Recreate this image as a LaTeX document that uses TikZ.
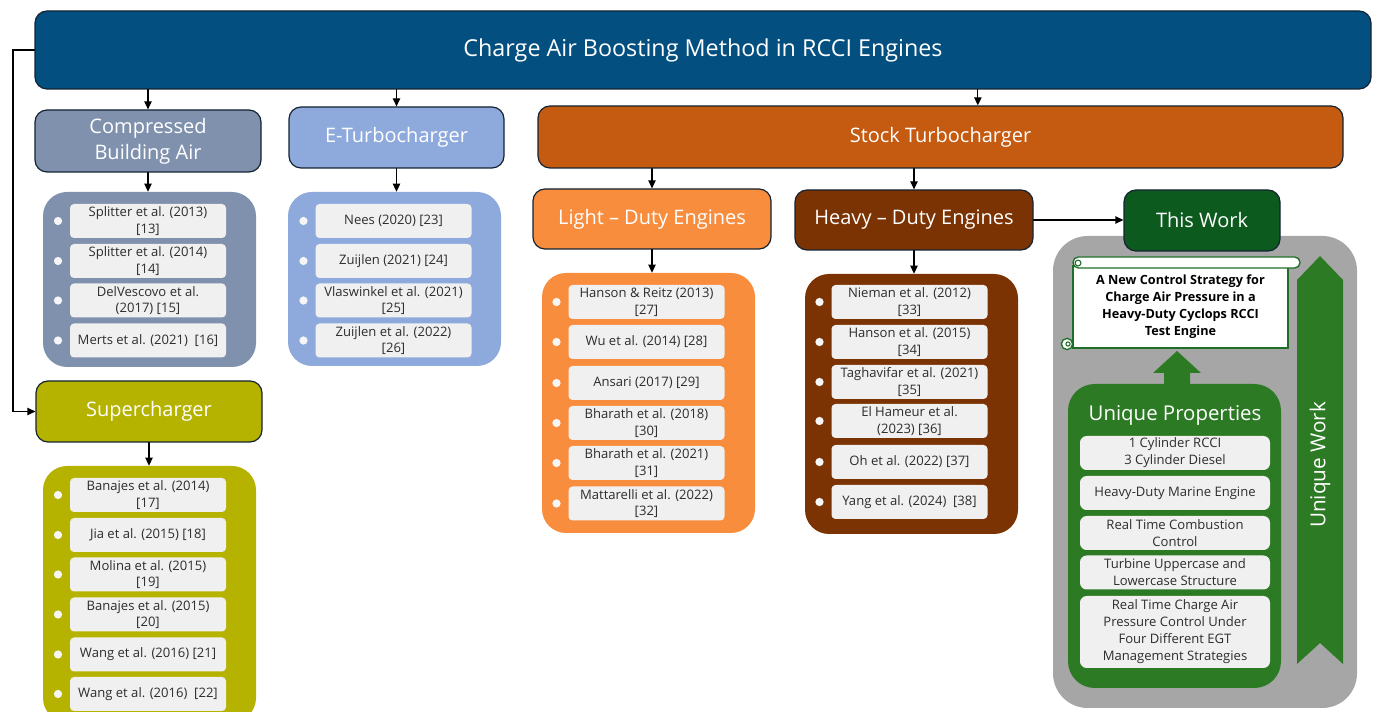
\documentclass[tikz,border=0pt]{standalone}
\usepackage{fontspec}
\setmainfont{Open Sans}
\usetikzlibrary{arrows.meta}

\begin{document}
\begin{tikzpicture}
		[x=0.75pt,y=-0.75pt,line cap=round,
		>={Triangle[length=6pt,width=5.5pt]},
		%Styles
		connector/.style={line width=0.9pt,->},
		head box/.style={draw=boxedge,line width=0.9pt,rounded corners=9pt,inner sep=0pt,text=white,align=center,font=\fontsize{15}{19.5}\selectfont},
		list panel/.style={rounded corners=18pt,inner sep=0pt,minimum width=159.75pt},
		ref item/.style={fill=itemgrey,rounded corners=3pt,inner sep=0pt,minimum width=117pt,minimum height=25.5pt,align=center,text=itemtext,font=\fontsize{9.8}{12.6}\selectfont,label={[dotmark]left:{}}},
		dotmark/.style={circle,fill=dotgrey,inner sep=0pt,minimum size=6.2pt,xshift=-5.5pt},
		prop item/.style={fill=itemgrey,rounded corners=5pt,inner sep=0pt,minimum width=142.5pt,minimum height=25.5pt,align=center,text=itemtext,font=\fontsize{9.8}{12.8}\selectfont},
		scroll line/.style={draw=scrollgreen,line width=1pt,fill=white}
		]
		
		%Colors
		\definecolor{titleblue}{RGB}{2,79,128}
		\definecolor{cbablue}{RGB}{128,145,174}
		\definecolor{etcblue}{RGB}{142,169,219}
		\definecolor{stockorange}{RGB}{197,90,17}
		\definecolor{lightorange}{RGB}{248,141,62}
		\definecolor{heavybrown}{RGB}{123,51,3}
		\definecolor{twgreen}{RGB}{12,90,30}
		\definecolor{propgreen}{RGB}{45,122,37}
		\definecolor{scrollgreen}{RGB}{30,110,40}
		\definecolor{areagrey}{RGB}{166,166,166}
		\definecolor{scolive}{RGB}{181,178,0}
		\definecolor{itemgrey}{RGB}{240,240,240}
		\definecolor{dotgrey}{RGB}{246,246,246}
		\definecolor{itemtext}{RGB}{45,45,45}
		\definecolor{boxedge}{RGB}{20,35,50}
		
		\useasboundingbox (0,0) rectangle (1379,712);
		
		%The graphic
		\node[head box,fill=titleblue,minimum width=1002pt,minimum height=58.5pt,font=\fontsize{17.5}{21}\selectfont] (title) at (703,50) {Charge Air Boosting Method in RCCI Engines};
		
		\node[head box,fill=cbablue,minimum width=169.5pt,minimum height=46.5pt] (cba) at (148,141) {Compressed\\Building Air};
		\node[head box,fill=etcblue,minimum width=161.25pt,minimum height=45.75pt] (etc) at (396.5,137.5) {E-Turbocharger};
		\node[head box,fill=stockorange,minimum width=603.75pt,minimum height=46.5pt] (stc) at (940.5,137) {Stock Turbocharger};
		\node[head box,fill=lightorange,minimum width=178.5pt,minimum height=45pt] (ldt) at (652,219) {Light -- Duty Engines};
		\node[head box,fill=heavybrown,minimum width=178.5pt,minimum height=45pt] (hdt) at (914,220) {Heavy -- Duty Engines};
		\node[head box,fill=scolive,minimum width=169.5pt,minimum height=45.75pt] (sc) at (149,411.5) {Supercharger};
		
		% compressed building air
		\node[list panel,fill=cbablue,minimum height=131.25pt] (cbalist) at (149.5,279.5) {};
		\node[ref item] (cba1) at (148,221) {Splitter et al. (2013)\\{}[13]};
		\node[ref item] (cba2) at (148,261) {Splitter et al. (2014)\\{}[14]};
		\node[ref item] (cba3) at (148,300.5) {DelVescovo et al.\\(2017) [15]};
		\node[ref item] (cba4) at (148,340.5) {Merts et al. (2021)\ \ [16]};
		
		% e-turbocharger
		\node[list panel,fill=etcblue,minimum height=130.5pt] (etclist) at (394.5,279) {};
		\node[ref item] (etc1) at (393.5,221) {Nees (2020) [23]};
		\node[ref item] (etc2) at (393.5,261) {Zuijlen (2021) [24]};
		\node[ref item] (etc3) at (393.5,300.5) {Vlaswinkel et al. (2021)\\{}[25]};
		\node[ref item] (etc4) at (393.5,340.5) {Zuijlen et al. (2022)\\{}[26]};
		
		% light duty
		\node[list panel,fill=lightorange,minimum height=195pt] (ldtlist) at (648.5,403) {};
		\node[ref item] (ldt1) at (646.5,302) {Hanson \& Reitz (2013)\\{}[27]};
		\node[ref item] (ldt2) at (646.5,342) {Wu et al. (2014) [28]};
		\node[ref item] (ldt3) at (646.5,383) {Ansari (2017) [29]};
		\node[ref item] (ldt4) at (646.5,423) {Bharath et al. (2018)\\{}[30]};
		\node[ref item] (ldt5) at (646.5,463) {Bharath et al. (2021)\\{}[31]};
		\node[ref item] (ldt6) at (646.5,503.5) {Mattarelli et al. (2022)\\{}[32]};
		
		% heavy duty
		\node[list panel,fill=heavybrown,minimum height=195pt] (hdtlist) at (911.5,404) {};
		\node[ref item] (hdt1) at (909.5,302) {Nieman et al. (2012)\\{}[33]};
		\node[ref item] (hdt2) at (909.5,342) {Hanson et al. (2015)\\{}[34]};
		\node[ref item] (hdt3) at (909.5,382) {Taghavifar et al. (2021)\\{}[35]};
		\node[ref item] (hdt4) at (909.5,421) {El Hameur et al.\\(2023) [36]};
		\node[ref item] (hdt5) at (909.5,462) {Oh et al. (2022) [37]};
		\node[ref item] (hdt6) at (909.5,502) {Yang et al. (2024)\ \ [38]};
		
		% supercharger
		\node[list panel,fill=scolive,minimum height=192pt] (sclist) at (149.5,594) {};
		\node[ref item] (sc1) at (148,495) {Banajes et al. (2014)\\{}[17]};
		\node[ref item] (sc2) at (148,535) {Jia et al. (2015) [18]};
		\node[ref item] (sc3) at (148,574.5) {Molina et al. (2015)\\{}[19]};
		\node[ref item] (sc4) at (148,614.5) {Banajes et al. (2015)\\{}[20]};
		\node[ref item] (sc5) at (148,654.5) {Wang et al. (2016) [21]};
		\node[ref item] (sc6) at (148,694) {Wang et al. (2016)\ \ [22]};
		
		% this work
		\node[fill=areagrey,rounded corners=26pt,minimum width=228pt,minimum height=354pt,inner sep=0pt] (area) at (1205,472) {};
		\node[head box,fill=twgreen,minimum width=117pt,minimum height=45.75pt] (tw) at (1202,220.5) {This Work};
		
		\node[scroll line,minimum width=161.25pt,minimum height=61.5pt,inner sep=0pt,align=center,font=\fontsize{9.5}{12.8}\selectfont\bfseries] (scroll) at (1180.5,307) {A New Control Strategy for\\Charge Air Pressure in a\\Heavy-Duty Cyclops RCCI\\Test Engine};
		\draw[scroll line,rounded corners=4pt] (1073,257) rectangle (1300,268);
		\draw[draw=scrollgreen,line width=0.8pt] (1078,263) circle (2.2pt);
		\draw[scroll line] (1067,344) circle (4.2pt);
		\draw[draw=scrollgreen,line width=0.8pt] (1068,344) circle (1.6pt);
		
		\node[fill=propgreen,rounded corners=20pt,minimum width=159.75pt,minimum height=228pt,inner sep=0pt] (props) at (1174.5,536) {};
		\fill[propgreen] (1164,386) -- (1164,373) -- (1153,373) -- (1177,351) -- (1201,373) -- (1190,373) -- (1190,386) -- cycle;
		\node[text=white,font=\fontsize{15.3}{18}\selectfont] (propstitle) at (1175,415) {Unique Properties};
		\node[prop item] (p1) at (1175,453) {1 Cylinder RCCI\\3 Cylinder Diesel};
		\node[prop item] (p2) at (1175,493) {Heavy-Duty Marine Engine};
		\node[prop item] (p3) at (1175,533) {Real Time Combustion\\Control};
		\node[prop item] (p4) at (1175,572.5) {Turbine Uppercase and\\Lowercase Structure};
		\node[prop item,minimum height=54pt] (p5) at (1175,632) {Real Time Charge Air\\Pressure Control Under\\Four Different EGT\\Management Strategies};
		
		\fill[propgreen] (1320,256) -- (1343,280) -- (1343,664) -- (1320,643) -- (1297,664) -- (1297,280) -- cycle;
		\node[rotate=90,text=white,font=\fontsize{15.5}{18}\selectfont] (uw) at (1320,465) {Unique Work};
		
		% connectors
		\coordinate (bend) at (13,50);
		\coordinate (stcin) at ([xshift=28pt]stc.north);
		\draw[connector] (title.west) -- (bend) |- (sc.west);
		\draw[connector] (cba.north |- title.south) -- (cba.north);
		\draw[connector] (etc.north |- title.south) -- (etc.north);
		\draw[connector] (stcin |- title.south) -- (stcin);
		\draw[connector] (ldt.north |- stc.south) -- (ldt.north);
		\draw[connector] (hdt.north |- stc.south) -- (hdt.north);
		\draw[connector] (cba.south) -- (cba.south |- cbalist.north);
		\draw[connector] (etc.south) -- (etc.south |- etclist.north);
		\draw[connector] (ldt.south) -- (ldt.south |- ldtlist.north);
		\draw[connector] (hdt.south) -- (hdt.south |- hdtlist.north);
		\draw[connector] (sc.south) -- (sc.south |- sclist.north);
		\draw[connector] (hdt.east) -- (hdt.east -| tw.west);
	\end{tikzpicture}
\end{document}
